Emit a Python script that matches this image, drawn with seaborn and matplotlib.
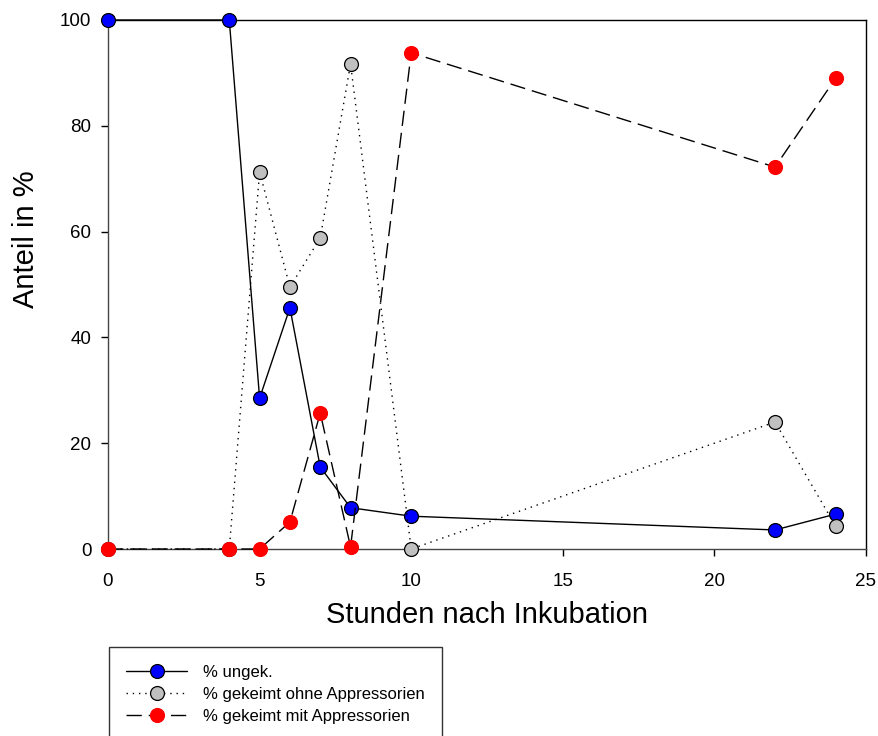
import matplotlib
matplotlib.use("Agg")
import matplotlib.pyplot as plt
import seaborn as sns
import numpy as np
from matplotlib.lines import Line2D

hours = [0, 4, 5, 6, 7, 8, 10, 22, 24]
ungek = [100, 100, 28.5, 45.6, 15.5, 7.8, 6.2, 3.6, 6.6]
ohne_app = [0, 0, 71.3, 49.5, 58.8, 91.7, 0, 24.0, 4.3]
mit_app = [0, 0, 0, 5.1, 25.7, 0.4, 93.8, 72.2, 89.0]
labels = ["% ungek.", "% gekeimt ohne Appressorien", "% gekeimt mit Appressorien"]
xticks = [0, 5, 10, 15, 20, 25]
yticks = [0, 20, 40, 60, 80, 100]

sns.set_style("ticks")
plt.rcParams['font.family'] = ['Liberation Sans', 'DejaVu Sans']
plt.rcParams.update({"text.color": "black", "axes.labelcolor": "black",
                     "xtick.color": "black", "ytick.color": "black"})

fig = plt.figure(figsize=(8.79, 7.36), dpi=100)
ax = fig.add_axes([108/879, 1-549/736, (866-108)/879, (549-20)/736])

lw = 1.0
ms = 10
styles = [
    dict(color="black", linestyle="-", marker="o", markerfacecolor="#0000ff", markeredgecolor="black", markeredgewidth=0.9),
    dict(color="black", linestyle=(0, (1, 3.5)), marker="o", markerfacecolor="#c0c0c0", markeredgecolor="black", markeredgewidth=0.9),
    dict(color="black", linestyle=(0, (11, 5)), marker="o", markerfacecolor="#ff0000", markeredgecolor="#ff0000", markeredgewidth=0.9),
]
series = [ungek, ohne_app, mit_app]
for vals, st, lab in zip(series, styles, labels):
    sns.lineplot(x=hours, y=vals, ax=ax, linewidth=lw, markersize=ms, clip_on=False, zorder=3, **st)

ax.set_xlim(0, 25)
ax.set_ylim(0, 100)
ax.set_xticks(xticks)
ax.set_yticks(yticks)
ax.tick_params(axis='both', direction='out', length=5, width=1, labelsize=13.5, top=False, right=False)
ax.tick_params(axis='x', pad=12.5, colors="black")
ax.tick_params(axis='y', pad=7, colors="black")
for t in ax.get_xticklines() + ax.get_yticklines():
    t.set_color("#444444")
for s in ax.spines.values():
    s.set_visible(True)
    s.set_linewidth(1.0)
    s.set_color("black")
ax.spines['left'].set_color("#444444")
ax.spines['bottom'].set_color("#444444")
ax.set_xlabel("Stunden nach Inkubation", fontsize=21, labelpad=7.5)
ax.set_ylabel("Anteil in %", fontsize=21)
ax.yaxis.set_label_coords((40-108)/758, (549-239)/529)

handles = [Line2D([0], [0], linewidth=lw, markersize=ms, **st) for st in styles]
leg = fig.legend(handles, labels, loc='upper left', bbox_to_anchor=(109/879, 1-647/736),
                 fontsize=12, frameon=True, fancybox=False, edgecolor="black",
                 handlelength=3.6, handletextpad=1.0, borderpad=1.05, labelspacing=0.42,
                 borderaxespad=0)
leg.get_frame().set_linewidth(1.0)

fig.savefig("out.png", dpi=100)
